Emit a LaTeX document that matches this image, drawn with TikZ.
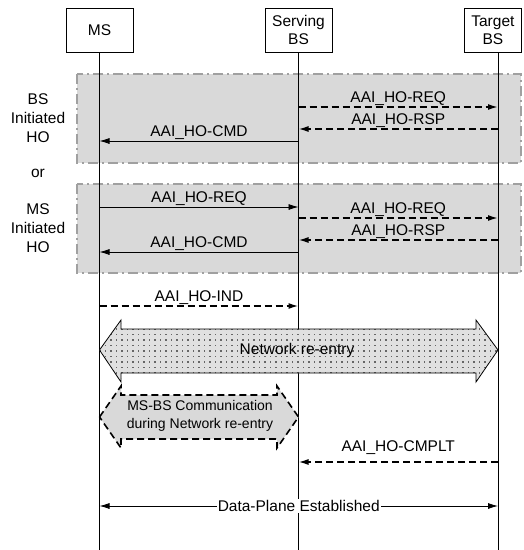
\documentclass[tikz,border=0pt]{standalone}
\usepackage{fontspec}
\setmainfont{Liberation Sans}
\usetikzlibrary{arrows.meta,patterns}
\definecolor{boxgray}{HTML}{D9D9D9}
\definecolor{bordergray}{HTML}{A0A0A0}
\pgfdeclarepatternformonly{sparsedots}{\pgfqpoint{-1pt}{-1pt}}{\pgfqpoint{6.5pt}{6.5pt}}{\pgfqpoint{5.5pt}{5.5pt}}{%
  \pgfpathrectangle{\pgfqpoint{0pt}{0pt}}{\pgfqpoint{1.6pt}{1.6pt}}\pgfusepath{fill}}
\tikzset{
  entity/.style={draw,line width=0.8pt,minimum height=44pt,align=center,font=\fontsize{15.5}{18}\selectfont,inner sep=0pt},
  lifeline/.style={line width=0.8pt},
  phase/.style={fill=boxgray,draw=bordergray,line width=1.6pt,dash pattern=on 10pt off 4pt on 2pt off 4pt},
  solidmsg/.style={line width=0.8pt,-{Latex[length=10pt,width=6pt]}},
  dashmsg/.style={line width=1.6pt,dash pattern=on 7pt off 4pt,-{Latex[length=10pt,width=6pt]}},
  lbl/.style={anchor=base,yshift=5pt,inner sep=0pt,font=\fontsize{15.5}{18}\selectfont},
  sidelbl/.style={align=center,font=\fontsize{15.5}{19}\selectfont,inner sep=0pt},
}
\begin{document}
\begin{tikzpicture}[x=1pt,y=-1pt]
\useasboundingbox (0,0) rectangle (524,550);
% phase boxes
\draw[phase] (77,74) rectangle (521,163);
\draw[phase] (77,184) rectangle (521,273);
% entities
\node[entity,minimum width=67pt] (ms) at (99.5,30) {MS};
\node[entity,minimum width=67pt] (sbs) at (298.5,30) {Serving\\BS};
\node[entity,minimum width=57pt,anchor=west] (tbs) at (464,30) {Target\\BS};
\coordinate (tbsx) at (498,30);
% lifelines
\coordinate (msend) at (99.5,550);
\coordinate (sbsend) at (298.5,550);
\coordinate (tbsend) at (498,550);
\draw[lifeline] (ms.south) -- (msend);
\draw[lifeline] (sbs.south) -- (sbsend);
\draw[lifeline] (tbsx |- tbs.south) -- (tbsend);
% side labels
\node[sidelbl] (bsinit) at (38,118) {BS\\Initiated\\HO};
\node[sidelbl] (or) at (38,173) {or};
\node[sidelbl] (msinit) at (38,228) {MS\\Initiated\\HO};
% BS initiated
\draw[dashmsg] (sbs |- 0,107) -- node[lbl]{AAI\_HO-REQ} (tbsx |- 0,107);
\draw[dashmsg] (tbsx |- 0,129) -- node[lbl]{AAI\_HO-RSP} (sbs |- 0,129);
\draw[solidmsg] (sbs |- 0,141) -- node[lbl]{AAI\_HO-CMD} (ms |- 0,141);
% MS initiated
\draw[solidmsg] (ms |- 0,207) -- node[lbl]{AAI\_HO-REQ} (sbs |- 0,207);
\draw[dashmsg] (sbs |- 0,218) -- node[lbl]{AAI\_HO-REQ} (tbsx |- 0,218);
\draw[dashmsg] (tbsx |- 0,240) -- node[lbl]{AAI\_HO-RSP} (sbs |- 0,240);
\draw[solidmsg] (sbs |- 0,252) -- node[lbl]{AAI\_HO-CMD} (ms |- 0,252);
% IND
\draw[dashmsg] (ms |- 0,306) -- node[lbl]{AAI\_HO-IND} (sbs |- 0,306);
% Network re-entry big arrow
\path[preaction={fill=black!12},pattern=sparsedots,pattern color=black!60]
  (99.5,350) -- (121,320) -- (121,329) -- (476,329) -- (476,320) -- (498,350)
  -- (476,382) -- (476,373) -- (121,373) -- (121,382) -- cycle;
\draw[line width=0.8pt]
  (99.5,350) -- (121,320) -- (121,329) -- (476,329) -- (476,320) -- (498,350)
  -- (476,382) -- (476,373) -- (121,373) -- (121,382) -- cycle;
\node[font=\fontsize{15.5}{18}\selectfont,inner sep=0pt] (nre) at (297,350) {Network re-entry};
% MS-BS communication
\draw[fill=boxgray,line width=1.6pt,dash pattern=on 7pt off 4pt]
  (99.5,417) -- (121,386) -- (121,395) -- (277,395) -- (277,386) -- (298.5,417)
  -- (277,448) -- (277,439) -- (121,439) -- (121,448) -- cycle;
\node[align=center,font=\fontsize{14}{18}\selectfont,inner sep=0pt] (comm) at (200,416) {MS-BS Communication\\during Network re-entry};
% CMPLT
\draw[dashmsg] (tbsx |- 0,462) -- node[lbl,yshift=6pt]{AAI\_HO-CMPLT} (sbs |- 0,462);
% Data plane
\draw[line width=0.8pt,{Latex[length=10pt,width=6pt]}-{Latex[length=10pt,width=6pt]}] (ms |- 0,506) -- node[fill=white,inner sep=1pt,font=\fontsize{15.5}{18}\selectfont]{Data-Plane Established} (tbsx |- 0,506);
\end{tikzpicture}
\end{document}
